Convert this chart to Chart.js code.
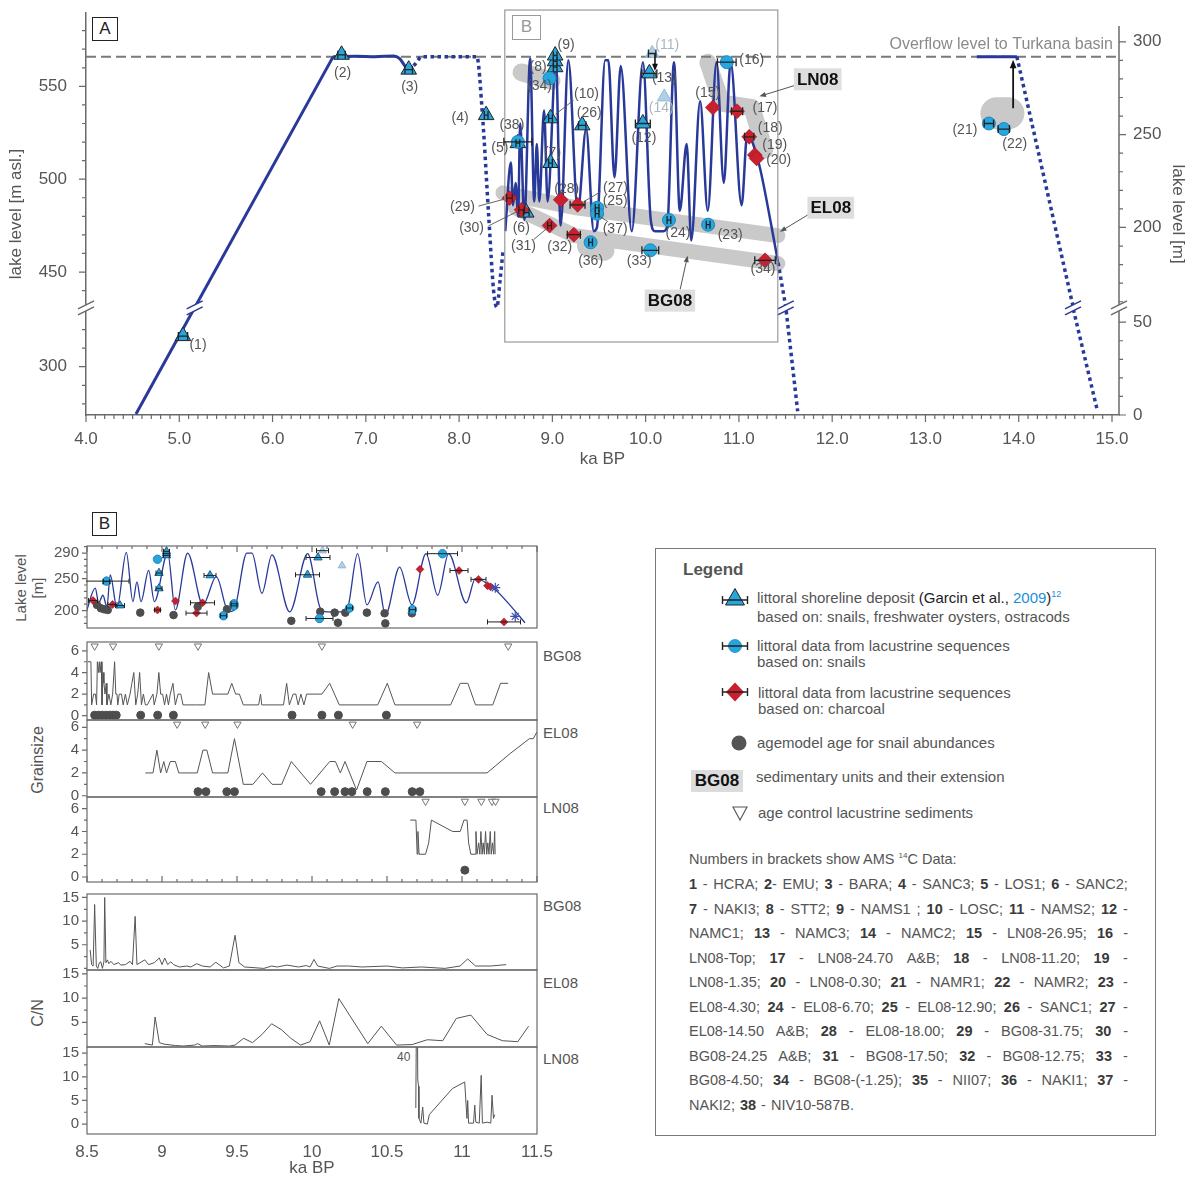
<!DOCTYPE html>
<html>
<head>
<meta charset="utf-8">
<title>Lake level history, Suguta Valley</title>
<script src="https://cdn.jsdelivr.net/npm/chart.js@4.4.1/dist/chart.umd.min.js"></script>
<style>
  html, body { margin: 0; padding: 0; background: #fff; }
  body { position: relative; width: 1190px; height: 1180px; overflow: hidden;
         font-family: "Liberation Sans", Arial, Helvetica, sans-serif; color: #555; }
  canvas { position: absolute; left: 0; }
  .txt { position: absolute; white-space: nowrap; line-height: 1; }
  .rot { position: absolute; white-space: nowrap; line-height: 1; transform: translate(-50%, -50%) rotate(-90deg); }
  .tag { position: absolute; border: 1px solid #222; color: #222; font-size: 17px; line-height: 22px;
         text-align: center; box-sizing: border-box; background: #fff; }
  #legend { position: absolute; left: 655px; top: 548px; width: 501px; height: 588px;
            border: 1.5px solid #7a7a7a; box-sizing: border-box; }
  #legend .row { position: absolute; font-size: 15px; line-height: 15.5px; white-space: nowrap; color: #555; }
  #legend .ams { position: absolute; left: 33px; width: 439px; height: 24px; font-size: 14.5px; line-height: 24px;
                 display: flex; justify-content: space-between; color: #555; white-space: nowrap; }
  #legend .ams b { color: #3a3a3a; }
</style>
</head>
<body>

<div class="tag" style="left:92px;top:17px;width:26px;height:24px;">A</div>
<div class="tag" style="left:512px;top:15px;width:29px;height:25px;border-color:#9a9a9a;color:#9a9a9a;">B</div>
<div class="tag" style="left:92px;top:512px;width:25px;height:24px;">B</div>

<div class="rot" style="left:20px;top:588px;font-size:15px;">Lake level</div>
<div class="rot" style="left:37px;top:588px;font-size:15px;">[m]</div>
<div class="rot" style="left:38px;top:760px;font-size:16px;">Grainsize</div>
<div class="rot" style="left:38px;top:1013px;font-size:16px;">C/N</div>

<div class="txt" style="left:543px;top:648px;font-size:15px;">BG08</div>
<div class="txt" style="left:543px;top:725px;font-size:15px;">EL08</div>
<div class="txt" style="left:543px;top:800px;font-size:15px;">LN08</div>
<div class="txt" style="left:543px;top:898px;font-size:15px;">BG08</div>
<div class="txt" style="left:543px;top:975px;font-size:15px;">EL08</div>
<div class="txt" style="left:543px;top:1051px;font-size:15px;">LN08</div>
<div class="txt" style="left:397px;top:1051px;font-size:12px;">40</div>

<div id="legend">
  <div class="txt" style="left:27px;top:12px;font-size:17px;font-weight:bold;color:#555;">Legend</div>

  <svg width="32" height="22" style="position:absolute;left:63px;top:38px">
    <polygon points="16,1.5 25.5,18 6.5,18" fill="#27a6de" stroke="#222" stroke-width="1"/>
    <path d="M3.5,13 H28.5 M3.5,9 V17 M28.5,9 V17" stroke="#222" stroke-width="1.4" fill="none"/>
  </svg>
  <div class="row" style="left:101px;top:41px;">littoral shoreline deposit <span style="color:#222">(Garcin et al., </span><span style="color:#1b8fd6">2009</span><span style="color:#222">)</span><span style="color:#1b8fd6;font-size:9px;position:relative;top:-6px;">12</span><br>based on: snails, freshwater oysters, ostracods</div>

  <svg width="32" height="22" style="position:absolute;left:63px;top:86px">
    <circle cx="16" cy="11" r="6.5" fill="#27a6de" stroke="#1d86bb" stroke-width="0.8"/>
    <path d="M3.5,11 H28.5 M3.5,7 V15 M28.5,7 V15" stroke="#222" stroke-width="1.4" fill="none"/>
  </svg>
  <div class="row" style="left:101px;top:89px;">littoral data from lacustrine sequences<br>based on: snails</div>

  <svg width="32" height="22" style="position:absolute;left:63px;top:132px">
    <polygon points="16,1.5 25,11 16,20.5 7,11" fill="#c8202f"/>
    <path d="M3.5,11 H28.5 M3.5,7 V15 M28.5,7 V15" stroke="#222" stroke-width="1.4" fill="none"/>
  </svg>
  <div class="row" style="left:102px;top:136px;">littoral data from lacustrine sequences<br>based on: charcoal</div>

  <svg width="20" height="20" style="position:absolute;left:73px;top:184px">
    <circle cx="10" cy="10" r="7.5" fill="#555"/>
  </svg>
  <div class="row" style="left:101px;top:186px;">agemodel age for snail abundances</div>

  <div style="position:absolute;left:35px;top:221px;width:52px;height:22px;background:#dcdcdc;color:#111;font-weight:bold;font-size:17px;line-height:22px;text-align:center;">BG08</div>
  <div class="row" style="left:100px;top:220px;">sedimentary units and their extension</div>

  <svg width="20" height="20" style="position:absolute;left:74px;top:255px">
    <polygon points="3,3 17,3 10,16" fill="none" stroke="#555" stroke-width="1.1"/>
  </svg>
  <div class="row" style="left:102px;top:256px;">age control lacustrine sediments</div>

  <div class="txt" style="left:33px;top:303px;font-size:14.5px;color:#555;">Numbers in brackets show AMS <span style="font-size:8px;position:relative;top:-6px;">14</span>C Data:</div>
  <div id="amsBlock"></div>
</div>

<script>
Chart.defaults.font.family = '"Liberation Sans", Arial, Helvetica, sans-serif';
Chart.defaults.color = '#555';

const BLUE_LINE = '#28399a';
const BLUE_PT = '#27a6de';
const BLUE_EDGE = '#1d86bb';
const RED_PT = '#c8202f';
const FAINT_PT = 'rgba(150,196,226,0.8)';
const BAND = '#c9c9c9';
const AXIS = '#6a6a6a';
const INK = '#555';

/* ---------------- Panel A: lake level through the Holocene ---------------- */

// vertical axis cut: metres between 331.7 and 430.7 m asl are left out
const BREAK_AT = 430.7;
const BREAK_SHIFT = 99;
const LEVEL_ZERO = 274;      // m asl of 0 m lake level (right axis)
const OVERFLOW = 566;        // overflow sill towards the Turkana basin, m asl
const RIGHT_AXIS_TOP = 308.5; // right axis line ends here (lake level m)

// reconstructed lake level, high-frequency part (ka BP, m asl)
const lakeKa  = [8.495, 8.555, 8.578, 8.606, 8.633, 8.655, 8.70, 8.762, 8.806, 8.833, 8.86, 8.911, 8.949,
                 9.038, 9.089, 9.171, 9.273, 9.362, 9.444, 9.478, 9.566, 9.60, 9.666, 9.733, 9.851, 9.971,
                 10.055, 10.10, 10.19, 10.233, 10.304, 10.366, 10.44, 10.489, 10.584, 10.666, 10.76, 10.838,
                 10.911, 11.029, 11.089, 11.211, 11.344, 11.42];
const lakeAsl = [472, 509, 486, 498, 480, 530, 478, 565, 488, 519, 488, 537, 488,
                 564, 475, 564, 483, 527, 472, 474, 564, 564, 501, 561, 472, 563,
                 478, 472, 472, 475, 563, 483, 519, 467, 542, 483, 563, 498,
                 563, 486, 524, 509, 476, 455];

// early Holocene rise and the highstand plateau
const riseKa  = [4.536, 6.65];
const riseAsl = [274.5, 566];
const plateauKa  = [6.65, 6.9, 7.1, 7.3, 7.36, 7.42, 7.46];
const plateauAsl = [566, 566.2, 566, 566.4, 565, 561, 558.5];
// inferred (dotted) parts
const inferredAKa  = [7.46, 7.53, 7.6, 8.19, 8.25, 8.32, 8.37, 8.405, 8.44, 8.47];
const inferredAAsl = [558.5, 562, 566, 566, 535, 478, 440, 431, 446, 461];
const inferredBKa  = [11.42, 11.50, 11.505, 11.63];
const inferredBAsl = [455, 432, 331, 276];
const lateHighKa  = [13.55, 13.98];
const lateHighAsl = [566, 566];
const inferredCKa  = [13.98, 14.58, 14.585, 14.84];
const inferredCAsl = [566, 432, 331, 277];

// littoral shoreline deposits (snails, freshwater oysters, ostracods)
const shoreIds = ['1', '2', '3', '4', '5', '6', '7', '8', '', '9', '10', '12', '13', '26'];
const shoreKa  = [5.04, 6.74, 7.46, 8.29, 8.63, 8.72, 8.98, 9.03, 9.03, 9.03, 8.98, 9.97, 10.04, 9.32];
const shoreAsl = [316.5, 567, 559, 534.5, 519.4, 482, 508.7, 560.3, 563.5, 566.6, 532.8, 530, 557, 529];
const shoreErr = [0.05, 0.04, 0.04, 0.02, 0.02, 0.03, 0.02, 0.02, 0.02, 0.02, 0.02, 0.08, 0.08, 0.04];
// rejected shoreline ages
const faintIds = ['11', '14'];
const faintKa  = [10.07, 10.20];
const faintAsl = [567.7, 544.3];
const faintErr = [0.04, 0];
// littoral data from lacustrine sequences, snails
const snailIds = ['38', '34', '25', '37', '36', '33', '24', '23', '16', '21', '22'];
const snailKa  = [8.63, 8.97, 9.48, 9.48, 9.41, 10.05, 10.25, 10.67, 10.87, 13.68, 13.84];
const snailAsl = [520.1, 554.3, 484.6, 481.4, 466, 461.7, 478, 475.5, 563, 530, 527];
const snailErr = [0.15, 0, 0.02, 0.02, 0.02, 0.09, 0.02, 0.02, 0.10, 0.05, 0.06];
// littoral data from lacustrine sequences, charcoal
const charIds = ['29', '30', '31', '28', '27', '32', '34', '15', '17', '18', '19', '20'];
const charKa  = [8.54, 8.67, 8.97, 9.09, 9.27, 9.23, 11.28, 10.72, 10.98, 11.11, 11.17, 11.19];
const charAsl = [489.8, 483.5, 475, 488.9, 486.2, 470.1, 456.3, 538.6, 536.6, 522.8, 513, 511.2];
const charErr = [0.03, 0.03, 0.02, 0, 0.08, 0.07, 0.11, 0, 0.06, 0.05, 0, 0];

// sedimentary units and their extension
const unitLN08Ka  = [10.667, 10.817, 11.138, 11.277];
const unitLN08Asl = [562.9, 540.9, 538.7, 515.7];
const unitEL08Ka  = [8.47, 9.26, 11.417];
const unitEL08Asl = [492.6, 484.6, 469.6];
const unitBG08Ka  = [8.60, 9.24, 11.417];
const unitBG08Asl = [484.6, 469.6, 454.6];
const unitNAKIKa  = [9.38, 9.55];
const unitNAKIAsl = [464.2, 462];
const unitSTTKa   = [8.67, 8.99];
const unitSTTAsl  = [557.5, 553];
const unitNAMRKa  = [13.76, 13.89];
const unitNAMRAsl = [535.5, 535.5];

const xTicksA = [4, 5, 6, 7, 8, 9, 10, 11, 12, 13, 14, 15];
const leftTicksA = [300, 450, 500, 550];
const rightTicksA = [0, 50, 200, 250, 300];

const toAxis = v => (v >= BREAK_AT ? v : v + BREAK_SHIFT);
const fromAxis = p => (p >= BREAK_AT ? p : p - BREAK_SHIFT);
const pairs = (xs, ys, f) => xs.map((x, i) => ({ x, y: f ? f(ys[i]) : ys[i] }));

// label placement around markers (pixels)
const labelOffsetsA = {
  shore: { '1': [15, 9], '2': [1, 18], '3': [1, 18], '4': [-26, 3], '5': [-18, 5], '6': [-5, 16], '7': [2, -10],
           '8': [-17, 0], '9': [11, -10], '10': [36, -24], '12': [1, 15], '13': [15, 5], '26': [7, -12] },
  faint: { '11': [15, -8], '14': [-3, 11] },
  snail: { '38': [-6, -17], '34': [-10, 8], '25': [18, -7], '37': [18, 15], '36': [0, 19], '33': [-11, 11],
           '24': [9, 13], '23': [22, 10], '16': [25, -2], '21': [-24, 7], '22': [11, 15] },
  charcoal: { '29': [-47, 9], '30': [-50, 18], '31': [-26, 21], '28': [6, -11], '27': [38, -17], '32': [-14, 12],
              '34': [-2, 9], '15': [-5, -14], '17': [28, -3], '18': [21, -9], '19': [20, -10], '20': [22, 2] }
};
const leadersA = {
  'shore:10': [[23, -18], [5, -4]],
  'charcoal:29': [[-31, 8], [-5, 1]],
  'charcoal:30': [[-33, 16], [-5, 2]],
  'charcoal:31': [[-16, 14], [-4, 4]],
  'charcoal:27': [[23, -13], [6, -3]],
  'snail:37': [[3, 3], [11, 8]]
};

function mkCanvas(id, top, w, h) {
  const c = document.createElement('canvas');
  c.id = id; c.width = w; c.height = h;
  c.style.top = top + 'px'; c.style.width = w + 'px'; c.style.height = h + 'px';
  document.body.appendChild(c);
  return c;
}

const lineDS = (data, color, width, extra) => Object.assign({
  data, showLine: true, borderColor: color, backgroundColor: color, borderWidth: width,
  pointRadius: 0, tension: 0, fill: false
}, extra || {});

const pointDS = (data, style, fill, edge, r, extra) => Object.assign({
  data, showLine: false, pointStyle: style, pointRadius: r,
  pointBackgroundColor: fill, pointBorderColor: edge, pointBorderWidth: 1
}, extra || {});

// horizontal age error bars for datasets carrying an errX array
const errorBars = {
  id: 'errorBars',
  afterDatasetsDraw(chart) {
    const { ctx, chartArea: a, scales: { x } } = chart;
    ctx.save();
    ctx.beginPath(); ctx.rect(a.left - 1, a.top - 1, a.right - a.left + 2, a.bottom - a.top + 2); ctx.clip();
    chart.data.datasets.forEach((ds, di) => {
      if (!ds.errX) return;
      const meta = chart.getDatasetMeta(di);
      const cap = ds.errCap || 4;
      ctx.strokeStyle = '#222'; ctx.lineWidth = ds.errWidth || 1.3;
      ds.data.forEach((p, i) => {
        const e = ds.errX[i];
        if (!e) return;
        const el = meta.data[i];
        const x0 = x.getPixelForValue(p.x - e), x1 = x.getPixelForValue(p.x + e), py = el.y;
        ctx.beginPath();
        ctx.moveTo(x0, py); ctx.lineTo(x1, py);
        ctx.moveTo(x0, py - cap); ctx.lineTo(x0, py + cap);
        ctx.moveTo(x1, py - cap); ctx.lineTo(x1, py + cap);
        ctx.stroke();
      });
    });
    ctx.restore();
  }
};

function arrow(ctx, x0, y0, x1, y1, color, width, head) {
  const ang = Math.atan2(y1 - y0, x1 - x0);
  ctx.strokeStyle = color; ctx.fillStyle = color; ctx.lineWidth = width;
  ctx.beginPath(); ctx.moveTo(x0, y0);
  ctx.lineTo(x1 - Math.cos(ang) * head * 0.8, y1 - Math.sin(ang) * head * 0.8); ctx.stroke();
  ctx.beginPath();
  ctx.moveTo(x1, y1);
  ctx.lineTo(x1 - head * Math.cos(ang - 0.38), y1 - head * Math.sin(ang - 0.38));
  ctx.lineTo(x1 - head * Math.cos(ang + 0.38), y1 - head * Math.sin(ang + 0.38));
  ctx.closePath(); ctx.fill();
}

function breakMark(ctx, cx, cy, color, halfW) {
  const dx = halfW, dy = 4, gap = 3;
  ctx.fillStyle = '#fff';
  ctx.beginPath();
  ctx.moveTo(cx - dx, cy + dy - gap); ctx.lineTo(cx + dx, cy - dy - gap);
  ctx.lineTo(cx + dx, cy - dy + gap); ctx.lineTo(cx - dx, cy + dy + gap);
  ctx.closePath(); ctx.fill();
  ctx.strokeStyle = color; ctx.lineWidth = 1.5;
  ctx.beginPath();
  ctx.moveTo(cx - dx, cy + dy - gap); ctx.lineTo(cx + dx, cy - dy - gap);
  ctx.moveTo(cx - dx, cy + dy + gap); ctx.lineTo(cx + dx, cy - dy + gap);
  ctx.stroke();
}

// annotations of panel A (ka BP, m asl)
const boxB = { x0: 8.49, x1: 11.417, top: 591.1, bottom: 412.3 };   // bottom given on the cut axis
const lineBreaksA = [5.165, 11.502, 14.582];
const unitTagsA = [
  { text: 'LN08', x: 11.845, y: 553.8, ax0: 11.60, ay0: 550.5, ax1: 11.22, ay1: 544.6 },
  { text: 'EL08', x: 11.985, y: 484.6, ax0: 11.74, ay0: 480.8, ax1: 11.44, ay1: 471.7 },
  { text: 'BG08', x: 10.26, y: 434.6, ax0: 10.37, ay0: 440.6, ax1: 10.45, ay1: 458.8 }
];

const decorA = {
  id: 'decorA',
  afterDatasetsDraw(chart) {
    const { ctx, chartArea: a, scales: { x, y } } = chart;
    const X = v => x.getPixelForValue(v);
    const Y = v => y.getPixelForValue(toAxis(v));
    ctx.save();

    // right axis line
    ctx.strokeStyle = AXIS; ctx.lineWidth = 1.5;
    ctx.beginPath(); ctx.moveTo(a.right, Y(RIGHT_AXIS_TOP + LEVEL_ZERO)); ctx.lineTo(a.right, a.bottom); ctx.stroke();

    // tick marks
    ctx.lineWidth = 1.2;
    ctx.beginPath();
    for (let k = 40; k <= 150; k++) {
      const v = k / 10, px = X(v), len = k % 10 === 0 ? 7 : 4;
      ctx.moveTo(px, a.bottom); ctx.lineTo(px, a.bottom + len);
    }
    const leftVals = [];
    for (let v = 280; v <= 320; v += 10) leftVals.push(v);
    for (let v = 440; v <= 580; v += 10) leftVals.push(v);
    leftVals.forEach(v => {
      const py = Y(v), len = (v % 50 === 0) ? 7 : 4;
      ctx.moveTo(a.left, py); ctx.lineTo(a.left - len, py);
    });
    const rightVals = [];
    for (let r = 0; r <= 50; r += 10) rightVals.push(r);
    for (let r = 160; r <= 300; r += 10) rightVals.push(r);
    rightVals.forEach(r => {
      const py = Y(r + LEVEL_ZERO), len = (r % 50 === 0) ? 7 : 4;
      ctx.moveTo(a.right, py); ctx.lineTo(a.right + len, py);
    });
    ctx.stroke();

    // axis cuts
    const cutY = y.getPixelForValue(BREAK_AT);
    breakMark(ctx, a.left, cutY, AXIS, 8);
    breakMark(ctx, a.right, cutY, AXIS, 8);
    lineBreaksA.forEach(k => breakMark(ctx, X(k), cutY, BLUE_LINE, 8));

    // frame of the detail window B
    ctx.strokeStyle = '#9a9a9a'; ctx.lineWidth = 1.2;
    const bx0 = X(boxB.x0), bx1 = X(boxB.x1), by0 = y.getPixelForValue(boxB.top), by1 = y.getPixelForValue(boxB.bottom);
    ctx.strokeRect(bx0, by0, bx1 - bx0, by1 - by0);

    // overflow caption
    ctx.fillStyle = '#8a8a8a'; ctx.font = '16px "Liberation Sans", Arial, sans-serif';
    ctx.textAlign = 'right'; ctx.textBaseline = 'middle';
    ctx.fillText('Overflow level to Turkana basin', a.right - 6, Y(OVERFLOW) - 12);

    // arrows
    arrow(ctx, X(10.10), Y(567.5), X(10.10), Y(558.2), '#111', 1.6, 8);
    arrow(ctx, X(13.94), Y(538.2), X(13.94), Y(564.3), '#111', 1.8, 9);

    // unit tags
    unitTagsA.forEach(t => {
      arrow(ctx, X(t.ax0), Y(t.ay0), X(t.ax1), Y(t.ay1), '#555', 1, 7);
      ctx.font = 'bold 17px "Liberation Sans", Arial, sans-serif';
      const w = ctx.measureText(t.text).width + 6;
      ctx.fillStyle = '#dedede';
      ctx.fillRect(X(t.x) - w / 2, Y(t.y) - 11, w, 22);
      ctx.fillStyle = '#111'; ctx.textAlign = 'center';
      ctx.fillText(t.text, X(t.x), Y(t.y) + 1);
    });

    // sample numbers and leader lines
    ctx.font = '14px "Liberation Sans", Arial, sans-serif';
    ctx.textAlign = 'center'; ctx.textBaseline = 'middle';
    chart.data.datasets.forEach((ds, di) => {
      if (!ds.ids) return;
      const meta = chart.getDatasetMeta(di);
      const offs = labelOffsetsA[ds.group] || {};
      ds.ids.forEach((id, i) => {
        if (!id || !offs[id]) return;
        const el = meta.data[i];
        const [dx, dy] = offs[id];
        const lead = leadersA[ds.group + ':' + id];
        if (lead) {
          ctx.strokeStyle = '#555'; ctx.lineWidth = 0.9;
          ctx.beginPath();
          ctx.moveTo(el.x + lead[0][0], el.y + lead[0][1]);
          ctx.lineTo(el.x + lead[1][0], el.y + lead[1][1]);
          ctx.stroke();
        }
        ctx.fillStyle = ds.group === 'faint' ? '#a9b6c2' : INK;
        ctx.fillText('(' + id + ')', el.x + dx, el.y + dy);
      });
    });
    ctx.restore();
  }
};

const bandOpts = { borderCapStyle: 'round', borderJoinStyle: 'round', order: 30 };
const dotted = { borderDash: [3.5, 3.5], borderCapStyle: 'butt', order: 20 };

const cA = mkCanvas('chartA', 0, 1190, 470);
new Chart(cA, {
  type: 'scatter',
  data: {
    datasets: [
      lineDS(pairs(unitLN08Ka, unitLN08Asl, toAxis), BAND, 17, bandOpts),
      lineDS(pairs(unitEL08Ka, unitEL08Asl, toAxis), BAND, 15, bandOpts),
      lineDS(pairs(unitBG08Ka, unitBG08Asl, toAxis), BAND, 15, bandOpts),
      lineDS(pairs(unitNAKIKa, unitNAKIAsl, toAxis), BAND, 22, bandOpts),
      lineDS(pairs(unitSTTKa, unitSTTAsl, toAxis), BAND, 18, bandOpts),
      lineDS(pairs(unitNAMRKa, unitNAMRAsl, toAxis), BAND, 32, bandOpts),
      lineDS([{ x: 4, y: OVERFLOW }, { x: 15.075, y: OVERFLOW }], '#7a7a7a', 2, { borderDash: [10, 5], order: 25 }),
      lineDS(pairs(riseKa, riseAsl, toAxis), BLUE_LINE, 3, { order: 20 }),
      lineDS(pairs(plateauKa, plateauAsl, toAxis), BLUE_LINE, 3, { cubicInterpolationMode: 'monotone', order: 20 }),
      lineDS(pairs(inferredAKa, inferredAAsl, toAxis), BLUE_LINE, 3.5, Object.assign({ cubicInterpolationMode: 'monotone' }, dotted)),
      lineDS(pairs(inferredBKa, inferredBAsl, toAxis), BLUE_LINE, 3.5, dotted),
      lineDS(pairs(lateHighKa, lateHighAsl, toAxis), BLUE_LINE, 3, { order: 20 }),
      lineDS(pairs(inferredCKa, inferredCAsl, toAxis), BLUE_LINE, 3.5, dotted),
      lineDS(pairs(lakeKa, lakeAsl, toAxis), BLUE_LINE, 2.5, { cubicInterpolationMode: 'monotone', order: 19 }),
      pointDS(pairs(faintKa, faintAsl, toAxis), 'triangle', FAINT_PT, 'rgba(150,180,205,0.9)', 8,
        { ids: faintIds, group: 'faint', errX: faintErr, order: 4 }),
      pointDS(pairs(shoreKa, shoreAsl, toAxis), 'triangle', BLUE_PT, '#222', 9,
        { ids: shoreIds, group: 'shore', errX: shoreErr, order: 3 }),
      pointDS(pairs(snailKa, snailAsl, toAxis), 'circle', BLUE_PT, BLUE_EDGE, 6.5,
        { ids: snailIds, group: 'snail', errX: snailErr, order: 2 }),
      pointDS(pairs(charKa, charAsl, toAxis), 'rectRot', RED_PT, '#8a1520', 7.5,
        { ids: charIds, group: 'charcoal', errX: charErr, order: 1, pointBorderWidth: 0.5 })
    ]
  },
  options: {
    responsive: false, animation: false, events: [], devicePixelRatio: 1,
    layout: { padding: { top: 13, left: 0, right: 0, bottom: 0 } },
    plugins: { legend: { display: false }, tooltip: { enabled: false } },
    scales: {
      x: {
        type: 'linear', min: 4, max: 15.075,
        grid: { display: false, drawTicks: false }, border: { color: AXIS, width: 1.5 },
        ticks: { font: { size: 17 }, color: INK, padding: 14, maxRotation: 0, autoSkip: false, callback: v => v.toFixed(1) },
        afterBuildTicks: s => { s.ticks = xTicksA.map(v => ({ value: v })); },
        title: { display: true, text: 'ka BP', font: { size: 17 }, color: INK, padding: { top: 0, bottom: 0 } },
        afterFit: s => { s.height = 55; }
      },
      y: {
        type: 'linear', position: 'left', min: 373, max: 589.5,
        grid: { display: false, drawTicks: true, tickLength: 19 }, border: { color: AXIS, width: 1.5 },
        ticks: { font: { size: 17 }, color: INK, padding: 0, autoSkip: false, callback: v => String(Math.round(fromAxis(v))) },
        afterBuildTicks: s => { s.ticks = leftTicksA.map(v => ({ value: toAxis(v) })); },
        title: { display: true, text: 'lake level [m asl.]', font: { size: 17 }, color: INK, padding: { top: 6, bottom: 0 } },
        afterFit: s => { s.width = 86; }
      },
      y2: {
        type: 'linear', position: 'right', min: 373, max: 589.5,
        grid: { display: false, drawTicks: true, tickLength: 14 }, border: { display: false },
        ticks: { font: { size: 17 }, color: INK, padding: 0, autoSkip: false,
                 callback: v => String(Math.round(fromAxis(v) - LEVEL_ZERO)) },
        afterBuildTicks: s => { s.ticks = rightTicksA.map(r => ({ value: toAxis(r + LEVEL_ZERO) })); },
        title: { display: true, text: 'lake level [m]', font: { size: 17 }, color: INK, padding: { top: 2, bottom: 0 } },
        afterFit: s => { s.width = 71; }
      }
    }
  },
  plugins: [decorA, errorBars]
});

/* ---------------- Panel B: detail 8.5–11.5 ka BP ---------------- */

const xTicksB = [8.5, 9, 9.5, 10, 10.5, 11, 11.5];

// agemodel ages for snail abundances shown with the lake curve (ka BP, lake level m)
const ageDotsKa    = [8.567, 8.593, 8.615, 8.638, 8.855, 9.077, 9.238, 9.433, 9.862, 10.055, 10.151, 10.173,
                      10.222, 10.366, 10.484, 10.489, 10.666];
const ageDotsLevel = [208.8, 203.6, 202, 201, 196.8, 193, 206, 202, 184, 198.3, 196.8, 181,
                      196.8, 196.8, 195.8, 180, 195.8];
const starKa    = [11.222, 11.355];
const starLevel = [235.8, 191];

// grainsize classes
const gsBG08Ka  = [8.505, 8.526, 8.531, 8.544, 8.556, 8.564, 8.569, 8.577, 8.582, 8.587, 8.595, 8.600, 8.607, 8.613,
                   8.620, 8.628, 8.633, 8.646, 8.659, 8.671, 8.684, 8.692, 8.700, 8.705, 8.715, 8.730, 8.741, 8.756,
                   8.769, 8.787, 8.799, 8.812, 8.825, 8.838, 8.851, 8.863, 8.876, 8.889, 8.902, 8.940, 8.948, 8.966,
                   8.979, 8.991, 9.004, 9.017, 9.030, 9.043, 9.055, 9.073, 9.089, 9.107, 9.125, 9.140, 9.222, 9.286,
                   9.311, 9.337, 9.439, 9.465, 9.491, 9.516, 9.542, 9.644, 9.657, 9.665, 9.810, 9.831, 9.849, 9.874,
                   9.892, 9.908, 9.926, 9.946, 9.964, 10.015, 10.066, 10.118, 10.182, 10.438, 10.502, 10.553, 10.924,
                   10.988, 11.039, 11.090, 11.205, 11.257, 11.308];
const gsBG08Val = [5, 5, 1, 2, 2, 1, 5, 4, 5, 4, 5, 1, 4, 3,
                   2, 3, 1, 2, 1, 2, 5, 2, 2, 1, 2, 2, 1, 2,
                   1, 2, 3, 4, 1, 2, 4, 1, 2, 1, 1, 2, 1, 2,
                   4, 2, 2, 1, 2, 1, 2, 3, 1, 2, 2, 1, 1, 1,
                   4, 2, 2, 3, 2, 2, 1, 1, 2, 1, 1, 3, 1, 2,
                   2, 1, 2, 1, 2, 2, 2, 3, 1, 1, 3, 1, 1,
                   3, 3, 1, 1, 3, 3];
const gsEL08Ka  = [8.889, 8.940, 8.966, 8.991, 9.012, 9.030, 9.055, 9.089, 9.112, 9.235, 9.273, 9.299, 9.337, 9.439,
                   9.483, 9.542, 9.606, 9.670, 9.734, 9.798, 9.862, 9.990, 10.118, 10.156, 10.189, 10.220, 10.297,
                   10.366, 10.463, 10.553, 11.167, 11.321, 11.449, 11.475, 11.5];
const gsEL08Val = [2, 2, 4, 2, 3, 2, 3, 3, 2, 2, 4, 4, 2, 2,
                   5, 1, 1, 2, 1, 1, 3, 1, 3, 3, 2, 3, 0.5,
                   3, 3, 2, 2, 3.7, 5, 5, 5.6];
const gsLN08Ka  = [10.655, 10.693, 10.701, 10.706, 10.714, 10.757, 10.778, 10.796, 10.937, 10.988, 11.013, 11.034,
                   11.044, 11.059, 11.090, 11.093, 11.100, 11.111, 11.119, 11.126, 11.134, 11.141, 11.149, 11.157,
                   11.165, 11.172, 11.180, 11.188, 11.195, 11.203, 11.211, 11.218, 11.221];
const gsLN08Val = [5, 5, 2, 4, 2, 2, 3, 5, 4, 4, 5, 5,
                   3, 2, 2, 4, 2, 3, 2, 4, 2, 3, 2, 4,
                   2, 3, 2, 4, 2, 3, 2, 4, 2];

// agemodel ages and age control points of the lacustrine sections
const ageBG08Ka = [8.551, 8.577, 8.602, 8.628, 8.654, 8.674, 8.695, 8.858, 8.971, 9.076, 9.867, 10.066, 10.176, 10.496];
const ageEL08Ka = [9.240, 9.293, 9.432, 9.483, 10.061, 10.151, 10.220, 10.266, 10.368, 10.489, 10.668, 10.719];
const ageLN08Ka = [11.019];
const ctrlBG08Ka = [8.551, 8.674, 8.979, 9.240, 10.066, 11.308];
const ctrlEL08Ka = [9.101, 9.288, 9.503, 10.271, 10.701];
const ctrlLN08Ka = [10.757, 11.019, 11.129, 11.200, 11.223];

// C/N ratios
const cnBG08Ka  = [8.521, 8.531, 8.541, 8.551, 8.562, 8.572, 8.582, 8.592, 8.603, 8.613, 8.618, 8.626, 8.636, 8.646,
                   8.659, 8.679, 8.710, 8.726, 8.756, 8.787, 8.803, 8.821, 8.833, 8.854, 8.885, 8.910, 8.949, 8.982,
                   9.000, 9.018, 9.038, 9.059, 9.077, 9.115, 9.167, 9.192, 9.231, 9.269, 9.321, 9.359, 9.410, 9.449,
                   9.487, 9.513, 9.551, 9.679, 9.731, 9.769, 9.833, 9.910, 9.962, 9.987, 10.013, 10.038, 10.115,
                   10.167, 10.244, 10.333, 10.500, 10.603, 10.731, 10.885, 10.987, 11.038, 11.090, 11.192, 11.295];
const cnBG08Val = [3.9, 0.8, 0.5, 13.5, 0.5, 0, 1.2, 1.4, 0, 1.5, 15, 1.2, 1.8, 1,
                   1.5, 0.8, 1.2, 0.7, 0.8, 1.5, 0.8, 11, 0.8, 1.2, 1.8, 0.8, 1.2, 2.2,
                   0.8, 2.2, 0.8, 1.4, 0.8, 0.3, 0.5, 0.3, 1, 0.5, 0.3, 1.3, 0.1, 0.5,
                   7, 1.2, 0.3, 0, 0.5, 0.3, 0.7, 0.3, 0.6, 0.3, 1.9, 0.5, 0,
                   0.5, 0.5, 0.3, 0.5, 0.1, 0.3, 0, 0.5, 2, 0.5, 0.5, 0.8];
const cnEL08Ka  = [8.885, 8.936, 8.954, 8.982, 9.013, 9.090, 9.141, 9.218, 9.238, 9.269, 9.346, 9.449, 9.487, 9.544,
                   9.603, 9.667, 9.731, 9.795, 9.859, 9.923, 9.987, 10.051, 10.115, 10.179, 10.372, 10.462, 10.564,
                   10.667, 10.769, 10.872, 10.962, 11.059, 11.167, 11.269, 11.372, 11.444];
const cnEL08Val = [0.6, 0.3, 6.1, 0.8, 0.5, 0.2, 0.1, 0.3, 0.6, 0.1, 0.2, 0.1, 0.3, 1.7,
                   0.8, 2.5, 4.7, 3.5, 1.7, 0.3, 1, 5.3, 0.3, 9.9, 0.6, 4.2, 0.3,
                   0.4, 1.4, 1.2, 5.8, 6.5, 2.5, 1.2, 1, 4.2];
const cnLN08Ka  = [10.692, 10.700, 10.705, 10.710, 10.713, 10.726, 10.738, 10.746, 10.769, 10.782, 10.936, 11.018,
                   11.033, 11.038, 11.044, 11.077, 11.085, 11.092, 11.115, 11.128, 11.136, 11.167, 11.192, 11.200,
                   11.210, 11.218];
const cnLN08Val = [3.4, 40, 9.5, 8, 1.2, 0.2, 3.6, 0.2, 0, 2, 7.5, 8.9,
                   1.2, 5, 0.2, 0.2, 4, 0.4, 0.2, 10.3, 0.2, 0.4, 0.2, 6.1,
                   1.2, 2];

const toLevel = v => v - LEVEL_ZERO;
const atLevel = (xs, y) => xs.map(x => ({ x, y }));

const panelFrame = cfg => ({
  id: 'frame_' + cfg.id,
  afterDatasetsDraw(chart) {
    const { ctx, chartArea: a, scales: { x, y } } = chart;
    ctx.save();
    ctx.strokeStyle = AXIS; ctx.lineWidth = 1.2;
    ctx.strokeRect(a.left, a.top, a.right - a.left, a.bottom - a.top);
    ctx.beginPath();
    (cfg.yMinor || []).forEach(v => { const py = y.getPixelForValue(v); ctx.moveTo(a.left, py); ctx.lineTo(a.left - 3, py); });
    cfg.yTicks.forEach(v => { const py = y.getPixelForValue(v); ctx.moveTo(a.left, py); ctx.lineTo(a.left - 5, py); });
    if (cfg.xTickEdge) {
      const edge = cfg.xTickEdge === 'top' ? a.top : a.bottom, dir = cfg.xTickEdge === 'top' ? 1 : -1;
      for (let k = 85; k <= 115; k++) {
        const px = x.getPixelForValue(k / 10), len = k % 5 === 0 ? 6 : 3;
        ctx.moveTo(px, edge); ctx.lineTo(px, edge + dir * len);
      }
    }
    ctx.stroke();
    ctx.restore();
  }
});

function subChart(cfg) {
  const pad = 11, xH = 46;
  const h = cfg.bottom - cfg.top + pad + (cfg.showX ? xH : pad);
  const c = mkCanvas(cfg.id, cfg.top - pad, 600, h);
  return new Chart(c, {
    type: 'scatter',
    data: { datasets: cfg.datasets },
    options: {
      responsive: false, animation: false, events: [], devicePixelRatio: 1,
      layout: { padding: { top: pad, bottom: cfg.showX ? 0 : pad, left: 0, right: 63 } },
      plugins: { legend: { display: false }, tooltip: { enabled: false } },
      scales: {
        x: {
          type: 'linear', min: 8.5, max: 11.5, display: !!cfg.showX,
          grid: { display: false, drawTicks: false }, border: { display: false },
          ticks: { font: { size: 17 }, color: INK, padding: 8, maxRotation: 0, autoSkip: false, callback: v => String(v) },
          afterBuildTicks: s => { s.ticks = xTicksB.map(v => ({ value: v })); },
          title: { display: !!cfg.showX, text: 'ka BP', font: { size: 17 }, color: INK, padding: { top: 0, bottom: 1 } },
          afterFit: s => { s.height = cfg.showX ? xH : 0; }
        },
        y: {
          type: 'linear', min: cfg.yMin, max: cfg.yMax,
          grid: { display: false, drawTicks: true, tickLength: 8 }, border: { display: false },
          ticks: { font: { size: 15 }, color: INK, padding: 0, autoSkip: false, callback: v => String(v) },
          afterBuildTicks: s => { s.ticks = cfg.yTicks.map(v => ({ value: v })); },
          afterFit: s => { s.width = 87; }
        }
      }
    },
    plugins: [panelFrame(cfg), errorBars]
  });
}

const grainLine = (xs, ys) => lineDS(pairs(xs, ys), '#555', 1, { order: 5 });
const ageDots = (xs, y) => pointDS(atLevel(xs, y), 'circle', '#4d4d4d', '#4d4d4d', 4, { order: 1 });
const ctrlMarks = (xs, y) => pointDS(atLevel(xs, y), 'triangle', '#fff', '#666', 4.2,
  { pointRotation: 180, pointBorderWidth: 0.9, order: 1, clip: 6 });

// lake level detail
subChart({
  id: 'chartB1', top: 546, bottom: 628, yMin: 172.8, yMax: 301,
  yTicks: [200, 250, 290], yMinor: [180, 190, 210, 220, 230, 240, 260, 270, 280, 300], xTickEdge: 'top',
  datasets: [
    lineDS(pairs(lakeKa, lakeAsl, toLevel), BLUE_LINE, 1.3, { cubicInterpolationMode: 'monotone', order: 10 }),
    pointDS(pairs(ageDotsKa, ageDotsLevel), 'circle', '#4d4d4d', '#4d4d4d', 3.8, { order: 6 }),
    pointDS(pairs(faintKa, faintAsl, toLevel), 'triangle', FAINT_PT, 'rgba(150,180,205,0.9)', 4.5,
      { errX: faintErr, errCap: 2.5, errWidth: 1, order: 5 }),
    pointDS(pairs(shoreKa, shoreAsl, toLevel), 'triangle', BLUE_PT, '#1b5f8a', 4.8,
      { errX: shoreErr, errCap: 2.5, errWidth: 1, order: 4 }),
    pointDS(pairs(snailKa, snailAsl, toLevel), 'circle', BLUE_PT, BLUE_EDGE, 4.2,
      { errX: snailErr, errCap: 2.5, errWidth: 1, order: 3 }),
    pointDS(pairs(charKa, charAsl, toLevel), 'rectRot', RED_PT, '#8a1520', 4,
      { errX: charErr, errCap: 2.5, errWidth: 1, order: 2, pointBorderWidth: 0.5 }),
    pointDS(pairs(starKa, starLevel), 'star', 'rgba(0,0,0,0)', '#3a4fb0', 5, { order: 1, pointBorderWidth: 1.2 })
  ]
});

// grainsize
subChart({
  id: 'chartG1', top: 642, bottom: 720, yMin: -0.4, yMax: 6.83, yTicks: [0, 2, 4, 6], yMinor: [1, 3, 5],
  datasets: [grainLine(gsBG08Ka, gsBG08Val), ageDots(ageBG08Ka, 0.05), ctrlMarks(ctrlBG08Ka, 6.45)]
});
subChart({
  id: 'chartG2', top: 720, bottom: 797, yMin: -0.11, yMax: 6.64, yTicks: [0, 2, 4, 6], yMinor: [1, 3, 5],
  datasets: [grainLine(gsEL08Ka, gsEL08Val), ageDots(ageEL08Ka, 0.36), ctrlMarks(ctrlEL08Ka, 6.27)]
});
subChart({
  id: 'chartG3', top: 797, bottom: 882, yMin: -0.44, yMax: 7.03, yTicks: [0, 2, 4, 6], yMinor: [1, 3, 5],
  xTickEdge: 'bottom',
  datasets: [grainLine(gsLN08Ka, gsLN08Val), ageDots(ageLN08Ka, 0.6), ctrlMarks(ctrlLN08Ka, 6.65)]
});

// C/N
subChart({
  id: 'chartC1', top: 894, bottom: 970, yMin: -0.34, yMax: 15.73, yTicks: [5, 10, 15], yMinor: [0, 2.5, 7.5, 12.5],
  datasets: [grainLine(cnBG08Ka, cnBG08Val)]
});
subChart({
  id: 'chartC2', top: 970, bottom: 1047, yMin: -0.1, yMax: 15.8, yTicks: [5, 10, 15], yMinor: [2.5, 7.5, 12.5],
  datasets: [grainLine(cnEL08Ka, cnEL08Val)]
});
subChart({
  id: 'chartC3', top: 1047, bottom: 1134, yMin: -2.1, yMax: 16.3, yTicks: [0, 5, 10, 15], yMinor: [2.5, 7.5, 12.5],
  showX: true,
  datasets: [grainLine(cnLN08Ka, cnLN08Val)]
});

/* ---------------- legend: AMS 14C sample list ---------------- */
const amsLines = [
  '*1* - HCRA; *2*- EMU; *3* - BARA; *4* - SANC3; *5* - LOS1; *6* - SANC2;',
  '*7* - NAKI3; *8* - STT2; *9* - NAMS1 ; *10* - LOSC; *11* - NAMS2; *12* -',
  'NAMC1; *13* - NAMC3; *14* - NAMC2; *15* - LN08-26.95; *16* -',
  'LN08-Top; *17* - LN08-24.70 A&B; *18* - LN08-11.20; *19* -',
  'LN08-1.35; *20* - LN08-0.30; *21* - NAMR1; *22* - NAMR2; *23* -',
  'EL08-4.30; *24* - EL08-6.70; *25* - EL08-12.90; *26* - SANC1; *27* -',
  'EL08-14.50 A&B; *28* - EL08-18.00; *29* - BG08-31.75; *30* -',
  'BG08-24.25 A&B; *31* - BG08-17.50; *32* - BG08-12.75; *33* -',
  'BG08-4.50; *34* - BG08-(-1.25); *35* - NII07; *36* - NAKI1; *37* -',
  'NAKI2; *38* - NIV10-587B.'
];
const legend = document.getElementById('legend');
amsLines.forEach((line, i) => {
  const row = document.createElement('div');
  row.className = 'ams';
  row.style.top = (323 + i * 24.5) + 'px';
  if (i === amsLines.length - 1) { row.style.justifyContent = 'flex-start'; row.style.gap = '5px'; }
  line.split(' ').forEach(tok => {
    const span = document.createElement('span');
    const m = tok.match(/^\*(\d+)\*(.*)$/);
    if (m) {
      const b = document.createElement('b'); b.textContent = m[1];
      span.appendChild(b);
      if (m[2]) span.appendChild(document.createTextNode(m[2]));
    } else {
      span.textContent = tok;
    }
    row.appendChild(span);
  });
  legend.appendChild(row);
});
</script>
</body>
</html>
